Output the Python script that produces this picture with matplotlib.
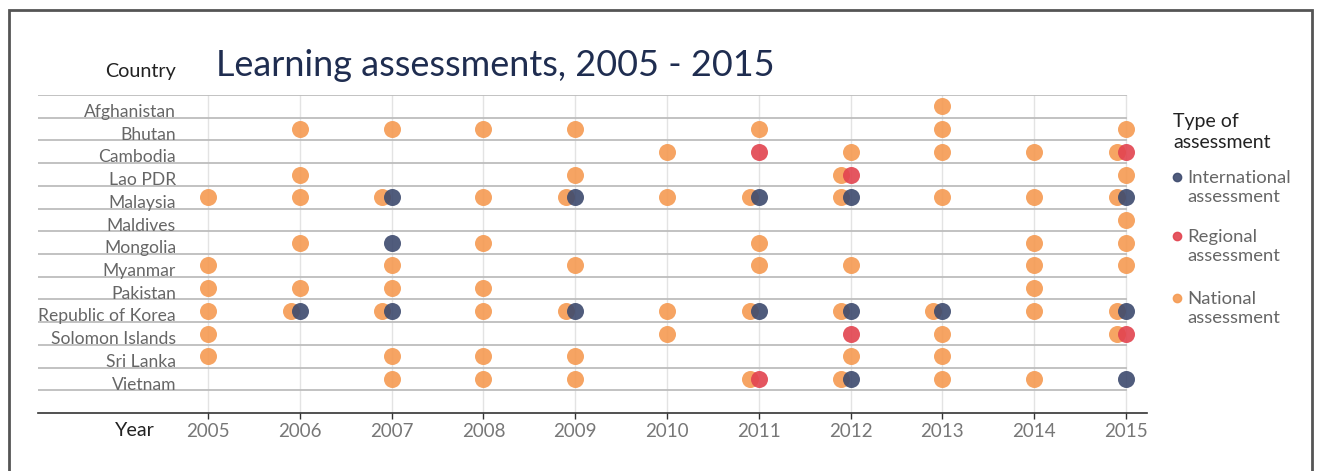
import matplotlib
matplotlib.use("Agg")
import matplotlib.pyplot as plt
from matplotlib.patches import Rectangle
from matplotlib.lines import Line2D

plt.rcParams['font.family'] = ['Lato', 'DejaVu Sans']

countries = ["Afghanistan", "Bhutan", "Cambodia", "Lao PDR", "Malaysia", "Maldives",
             "Mongolia", "Myanmar", "Pakistan", "Republic of Korea", "Solomon Islands",
             "Sri Lanka", "Vietnam"]
years = list(range(2005, 2016))

# years with national assessments (per country)
national = {
    "Afghanistan": [2013],
    "Bhutan": [2006, 2007, 2008, 2009, 2011, 2013, 2015],
    "Cambodia": [2010, 2012, 2013, 2014, 2015],
    "Lao PDR": [2006, 2009, 2012, 2015],
    "Malaysia": [2005, 2006, 2007, 2008, 2009, 2010, 2011, 2012, 2013, 2014, 2015],
    "Maldives": [2015],
    "Mongolia": [2006, 2008, 2011, 2014, 2015],
    "Myanmar": [2005, 2007, 2009, 2011, 2012, 2014, 2015],
    "Pakistan": [2005, 2006, 2007, 2008, 2014],
    "Republic of Korea": [2005, 2006, 2007, 2008, 2009, 2010, 2011, 2012, 2013, 2014, 2015],
    "Solomon Islands": [2005, 2010, 2013, 2015],
    "Sri Lanka": [2005, 2007, 2008, 2009, 2012, 2013],
    "Vietnam": [2007, 2008, 2009, 2011, 2012, 2013, 2014],
}
international = {
    "Malaysia": [2007, 2009, 2011, 2012, 2015],
    "Mongolia": [2007],
    "Republic of Korea": [2006, 2007, 2009, 2011, 2012, 2013, 2015],
    "Vietnam": [2012, 2015],
}
regional = {
    "Cambodia": [2011, 2015],
    "Lao PDR": [2012],
    "Solomon Islands": [2012, 2015],
    "Vietnam": [2011],
}

C_INT = "#3d4a6e"
C_REG = "#e2434f"
C_NAT = "#f59a52"
DOT_ALPHA = 0.9
SHIFT = 0.1  # national dot nudged left when another type shares the year

W, H = 1317, 471
fig = plt.figure(figsize=(W / 100, H / 100), dpi=100)

def px(x0, y0, x1, y1):
    return [x0 / W, 1 - y1 / H, (x1 - x0) / W, (y1 - y0) / H]

ax = fig.add_axes(px(38, 95, 1147, 413))
x_per = 91.8
xmin = 2005 - (208 - 38) / x_per
xmax = 2005 + (1147 - 208) / x_per
ax.set_xlim(xmin, xmax)
n = len(countries)
ax.set_ylim(n + 1, 0)

for s in ["top", "right", "left"]:
    ax.spines[s].set_visible(False)
ax.spines["bottom"].set_color("#333333")
ax.spines["bottom"].set_linewidth(1.2)
ax.set_yticks([])
ax.set_xticks(years)
ax.set_xticklabels([str(y) for y in years], fontsize=13.5, color="#777777")
ax.tick_params(axis="x", length=4, width=1, color="#333333", pad=3)

# vertical grid
for y in years:
    ax.plot([y, y], [0, n + 1], color="#e3e3e3", lw=1, zorder=0)
# horizontal band lines
for i in range(n + 1):
    ax.plot([xmin, 2015], [i, i], color="#bdbdbd", lw=1.3, zorder=1)

S = 150
for i, c in enumerate(countries):
    yc = i + 0.5
    others = set(international.get(c, [])) | set(regional.get(c, []))
    nx = [yr - SHIFT if yr in others else yr for yr in national.get(c, [])]
    ax.scatter(nx, [yc] * len(nx), s=S, color=C_NAT, alpha=DOT_ALPHA, lw=0, zorder=3)
    ix = international.get(c, [])
    ax.scatter(ix, [yc] * len(ix), s=S, color=C_INT, alpha=DOT_ALPHA, lw=0, zorder=4)
    rx = regional.get(c, [])
    ax.scatter(rx, [yc] * len(rx), s=S, color=C_REG, alpha=DOT_ALPHA, lw=0, zorder=4)
    ax.text(2005 + (176 - 208) / x_per, i + 0.97, c, ha="right", va="baseline",
            fontsize=12.6, color="#666666", zorder=5)

# titles
fig.text(176 / W, 1 - 72 / H, "Country", ha="right", va="center", fontsize=14.2, color="#222222")
fig.text(155 / W, 1 - 430 / H, "Year", ha="right", va="center", fontsize=14.2, color="#222222")
fig.text(216 / W, 1 - 66 / H, "Learning assessments, 2005 - 2015", ha="left", va="center",
         fontsize=25.9, color="#1f2d50")

# legend
fig.text(1173 / W, 1 - 132 / H, "Type of\nassessment", ha="left", va="center",
         fontsize=14, color="#222222", linespacing=1.3)
items = [("International\nassessment", C_INT, 177), ("Regional\nassessment", C_REG, 236),
         ("National\nassessment", C_NAT, 298)]
for lab, col, yy in items:
    fig.add_artist(Line2D([1177 / W], [1 - yy / H], marker="o", markersize=6,
                          color=col, alpha=DOT_ALPHA, lw=0))
    fig.text(1187 / W, 1 - (yy - 7) / H, lab, ha="left", va="top", fontsize=13.3,
             color="#666666", linespacing=1.25)

# outer frame
fig.add_artist(Rectangle((9 / W, -0.1), (1312 - 9) / W, 1.1 - 9.5 / H, transform=fig.transFigure,
                         fill=False, edgecolor="#555555", lw=2))

fig.savefig("out.png", dpi=100)
